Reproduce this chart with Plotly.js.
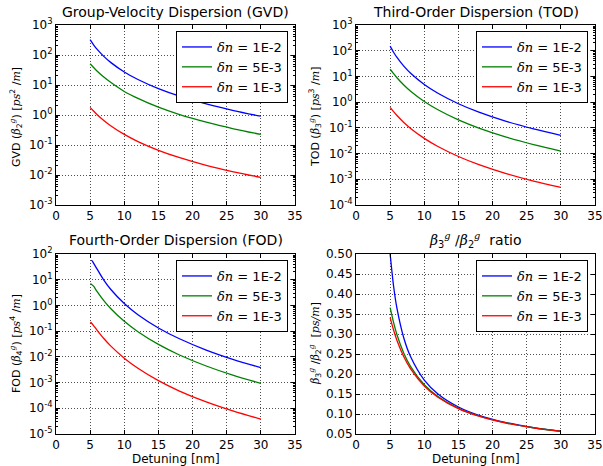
<!DOCTYPE html>
<html>
<head>
<meta charset="utf-8">
<script src="https://cdn.plot.ly/plotly-3.0.1.min.js"></script>
<style>html,body{margin:0;padding:0;background:#fff;}#chart{width:603px;height:466px;}</style>
</head>
<body>
<div id="chart"></div>
<script>
// ---- data ----
const seriesNames = ['1E-2', '5E-3', '1E-3'];

const xGVD = [5, 5.5, 6, 7, 8, 10, 12, 15, 18, 22, 26, 30];
const gvd_1e2 = [324, 219, 157, 90, 56.8, 27.2, 15.2, 7.56, 4.31, 2.33, 1.405, 0.91];
const gvd_5e3 = [51, 38.5, 29.5, 18.5, 12.3, 6.1, 3.58, 1.82, 1.05, 0.574, 0.347, 0.226];
const gvd_1e3 = [1.8, 1.352, 1.042, 0.656, 0.439, 0.225, 0.130, 0.0667, 0.0386, 0.0211, 0.0128, 0.00833];

const xTOD = [5, 5.5, 6, 7, 8, 10, 12, 15, 18, 22, 26, 30];
const tod_1e2 = [151, 87.3, 54.6, 25.1, 13.3, 4.88, 2.22, 0.868, 0.408, 0.179, 0.091, 0.051];
const tod_5e3 = [19.0, 12.9, 8.88, 4.63, 2.65, 1.06, 0.504, 0.204, 0.0978, 0.0436, 0.0223, 0.01256];
const tod_1e3 = [0.624, 0.426, 0.301, 0.162, 0.0952, 0.039, 0.0188, 0.0077, 0.00372, 0.001665, 0.000853, 0.000481];

const xFOD_1e2 = [5.15, 5.3, 5.5, 6, 7, 8, 10, 12, 15, 18, 22, 26, 30];
const fod_1e2 = [57, 54, 44, 26.4, 9.64, 4.27, 1.185, 0.436, 0.133, 0.0516, 0.0184, 0.00785, 0.0038];
const xFOD = [5.05, 5.5, 6, 7, 8, 10, 12, 15, 18, 22, 26, 30];
const fod_5e3 = [7.2, 5.6, 3.49, 1.533, 0.761, 0.24, 0.0944, 0.0304, 0.0121, 0.00441, 0.0019, 0.00093];
const fod_1e3 = [0.226, 0.165, 0.110, 0.0515, 0.0268, 0.0089, 0.0036, 0.00119, 0.000478, 0.000176, 0.000077, 0.000038];

const xRatio = [5, 5.5, 6, 7, 8, 10, 12, 15, 18, 22, 26, 30];
const ratio_1e2 = [0.500, 0.420, 0.364, 0.290, 0.243, 0.1848, 0.150, 0.1175, 0.0968, 0.0786, 0.0662, 0.0572];
const ratio_5e3 = [0.366, 0.329, 0.298, 0.252, 0.2186, 0.1731, 0.1435, 0.1142, 0.0950, 0.0776, 0.0656, 0.0568];
const ratio_1e3 = [0.341, 0.310, 0.284, 0.2433, 0.2128, 0.1701, 0.1417, 0.1134, 0.0945, 0.0773, 0.0654, 0.0567];

const xTicks = [0, 5, 10, 15, 20, 25, 30, 35];
const gvdTickExp = [-3, -2, -1, 0, 1, 2, 3];
const todTickExp = [-4, -3, -2, -1, 0, 1, 2, 3];
const fodTickExp = [-5, -4, -3, -2, -1, 0, 1, 2];
const ratioTicks = [0.05, 0.10, 0.15, 0.20, 0.25, 0.30, 0.35, 0.40, 0.45, 0.50];

// ---- styling ----
const colors = ['#0000ff', '#008000', '#ff0000'];
const FONT = 'DejaVu Sans, Arial, sans-serif';
const MATH = 'DejaVu Serif';
const legendLabel = n => '<span style="font-family:' + MATH + ';font-style:italic">δn</span> = ' + n;

function mk(x, y, i, ax, lg) {
  return {
    x: x, y: y, type: 'scatter', mode: 'lines',
    line: {color: colors[i], width: 1.3, shape: 'spline', smoothing: 0.8},
    name: legendLabel(seriesNames[i]),
    xaxis: 'x' + ax, yaxis: 'y' + ax, legend: lg, showlegend: true
  };
}

const traces = [
  mk(xGVD, gvd_1e2, 0, '', 'legend'),
  mk(xGVD, gvd_5e3, 1, '', 'legend'),
  mk(xGVD, gvd_1e3, 2, '', 'legend'),
  mk(xTOD, tod_1e2, 0, '2', 'legend2'),
  mk(xTOD, tod_5e3, 1, '2', 'legend2'),
  mk(xTOD, tod_1e3, 2, '2', 'legend2'),
  mk(xFOD_1e2, fod_1e2, 0, '3', 'legend3'),
  mk(xFOD, fod_5e3, 1, '3', 'legend3'),
  mk(xFOD, fod_1e3, 2, '3', 'legend3'),
  mk(xRatio, ratio_1e2, 0, '4', 'legend4'),
  mk(xRatio, ratio_5e3, 1, '4', 'legend4'),
  mk(xRatio, ratio_1e3, 2, '4', 'legend4')
];

const W = 603, H = 466;
const px = v => v / W, py = v => 1 - v / H;

const baseAxis = {
  showline: true, linecolor: '#000', linewidth: 1, mirror: 'ticks',
  ticks: 'inside', ticklen: 4, tickcolor: '#000', tickwidth: 1,
  showgrid: true, gridcolor: '#222', gridwidth: 0.8, griddash: '1px,2px',
  zeroline: false, automargin: false,
  tickfont: {family: FONT, size: 12, color: '#000'}
};

function xAx(d, anchor) {
  return Object.assign({}, baseAxis, {domain: d, anchor: anchor, range: [0, 35],
    tickmode: 'array', tickvals: xTicks, ticktext: xTicks.map(String)});
}
function logAx(d, anchor, exps) {
  return Object.assign({}, baseAxis, {domain: d, anchor: anchor, type: 'log',
    range: [exps[0], exps[exps.length - 1]],
    tickmode: 'array', tickvals: exps.map(e => Math.pow(10, e)),
    ticktext: exps.map(e => '10<sup>' + e + '</sup>'),
    minor: {ticks: 'inside', ticklen: 2, tickcolor: '#000', dtick: 'D1', showgrid: false}});
}

const dxL = [px(56), px(295)], dxR = [px(356), px(595)];
const dyT = [py(205), py(25)], dyB = [py(434), py(254)];

function legendAt(rightPx, topPx) {
  return {x: px(rightPx), y: py(topPx), xanchor: 'right', yanchor: 'top',
    bgcolor: '#fff', bordercolor: '#000', borderwidth: 1,
    font: {family: FONT, size: 13, color: '#000'}, tracegroupgap: 0};
}

const ann = [];
function title(text, xc, yc, size) {
  ann.push({text: text, x: px(xc), y: py(yc), xref: 'paper', yref: 'paper',
    xanchor: 'center', yanchor: 'middle', showarrow: false,
    font: {family: FONT, size: size || 14, color: '#000'}});
}
function ytitle(text, xc, yc) {
  ann.push({text: text, x: px(xc), y: py(yc), xref: 'paper', yref: 'paper',
    xanchor: 'center', yanchor: 'middle', showarrow: false, textangle: -90,
    font: {family: FONT, size: 11, color: '#000'}});
}
const m = s => '<span style="font-family:' + MATH + ';font-style:italic">' + s + '</span>';

title('Group-Velocity Dispersion (GVD)', 175.5, 12);
title('Third-Order Dispersion (TOD)', 475.5, 12);
title('Fourth-Order Dispersion (FOD)', 175.5, 240);
title(m('β') + '<sub>3</sub><sup>' + m('g') + '</sup> /' + m('β') + '<sub>2</sub><sup>' + m('g') + '</sup>  ratio', 475.5, 240);
ytitle('GVD (' + m('β') + '<sub>2</sub><sup>' + m('g') + '</sup>) [' + m('ps') + '<sup>2</sup> /' + m('m') + ']', 16, 117);
ytitle('TOD (' + m('β') + '<sub>3</sub><sup>' + m('g') + '</sup>) [' + m('ps') + '<sup>3</sup> /' + m('m') + ']', 315, 117);
ytitle('FOD (' + m('β') + '<sub>4</sub><sup>' + m('g') + '</sup>) [' + m('ps') + '<sup>4</sup> /' + m('m') + ']', 16, 344);
ytitle(m('β') + '<sub>3</sub><sup>' + m('g') + '</sup> /' + m('β') + '<sub>2</sub><sup>' + m('g') + '</sup>  [' + m('ps/m') + ']', 315, 344);
title('Detuning [nm]', 175.5, 459, 12);
title('Detuning [nm]', 475.5, 459, 12);

const layout = {
  width: W, height: H, margin: {l: 0, r: 0, t: 0, b: 0, autoexpand: false},
  paper_bgcolor: '#fff', plot_bgcolor: '#fff',
  font: {family: FONT, size: 12, color: '#000'},
  xaxis: xAx(dxL, 'y'), yaxis: logAx(dyT, 'x', gvdTickExp),
  xaxis2: xAx(dxR, 'y2'), yaxis2: logAx(dyT, 'x2', todTickExp),
  xaxis3: xAx(dxL, 'y3'), yaxis3: logAx(dyB, 'x3', fodTickExp),
  xaxis4: xAx(dxR, 'y4'),
  yaxis4: Object.assign({}, baseAxis, {domain: dyB, anchor: 'x4', range: [0.05, 0.5],
    tickmode: 'array', tickvals: ratioTicks, ticktext: ratioTicks.map(v => v.toFixed(2))}),
  legend: legendAt(288, 31), legend2: legendAt(588, 31),
  legend3: legendAt(288, 260), legend4: legendAt(588, 260),
  annotations: ann, showlegend: true
};

Plotly.newPlot('chart', traces, layout, {displayModeBar: false, staticPlot: true});
</script>
</body>
</html>
